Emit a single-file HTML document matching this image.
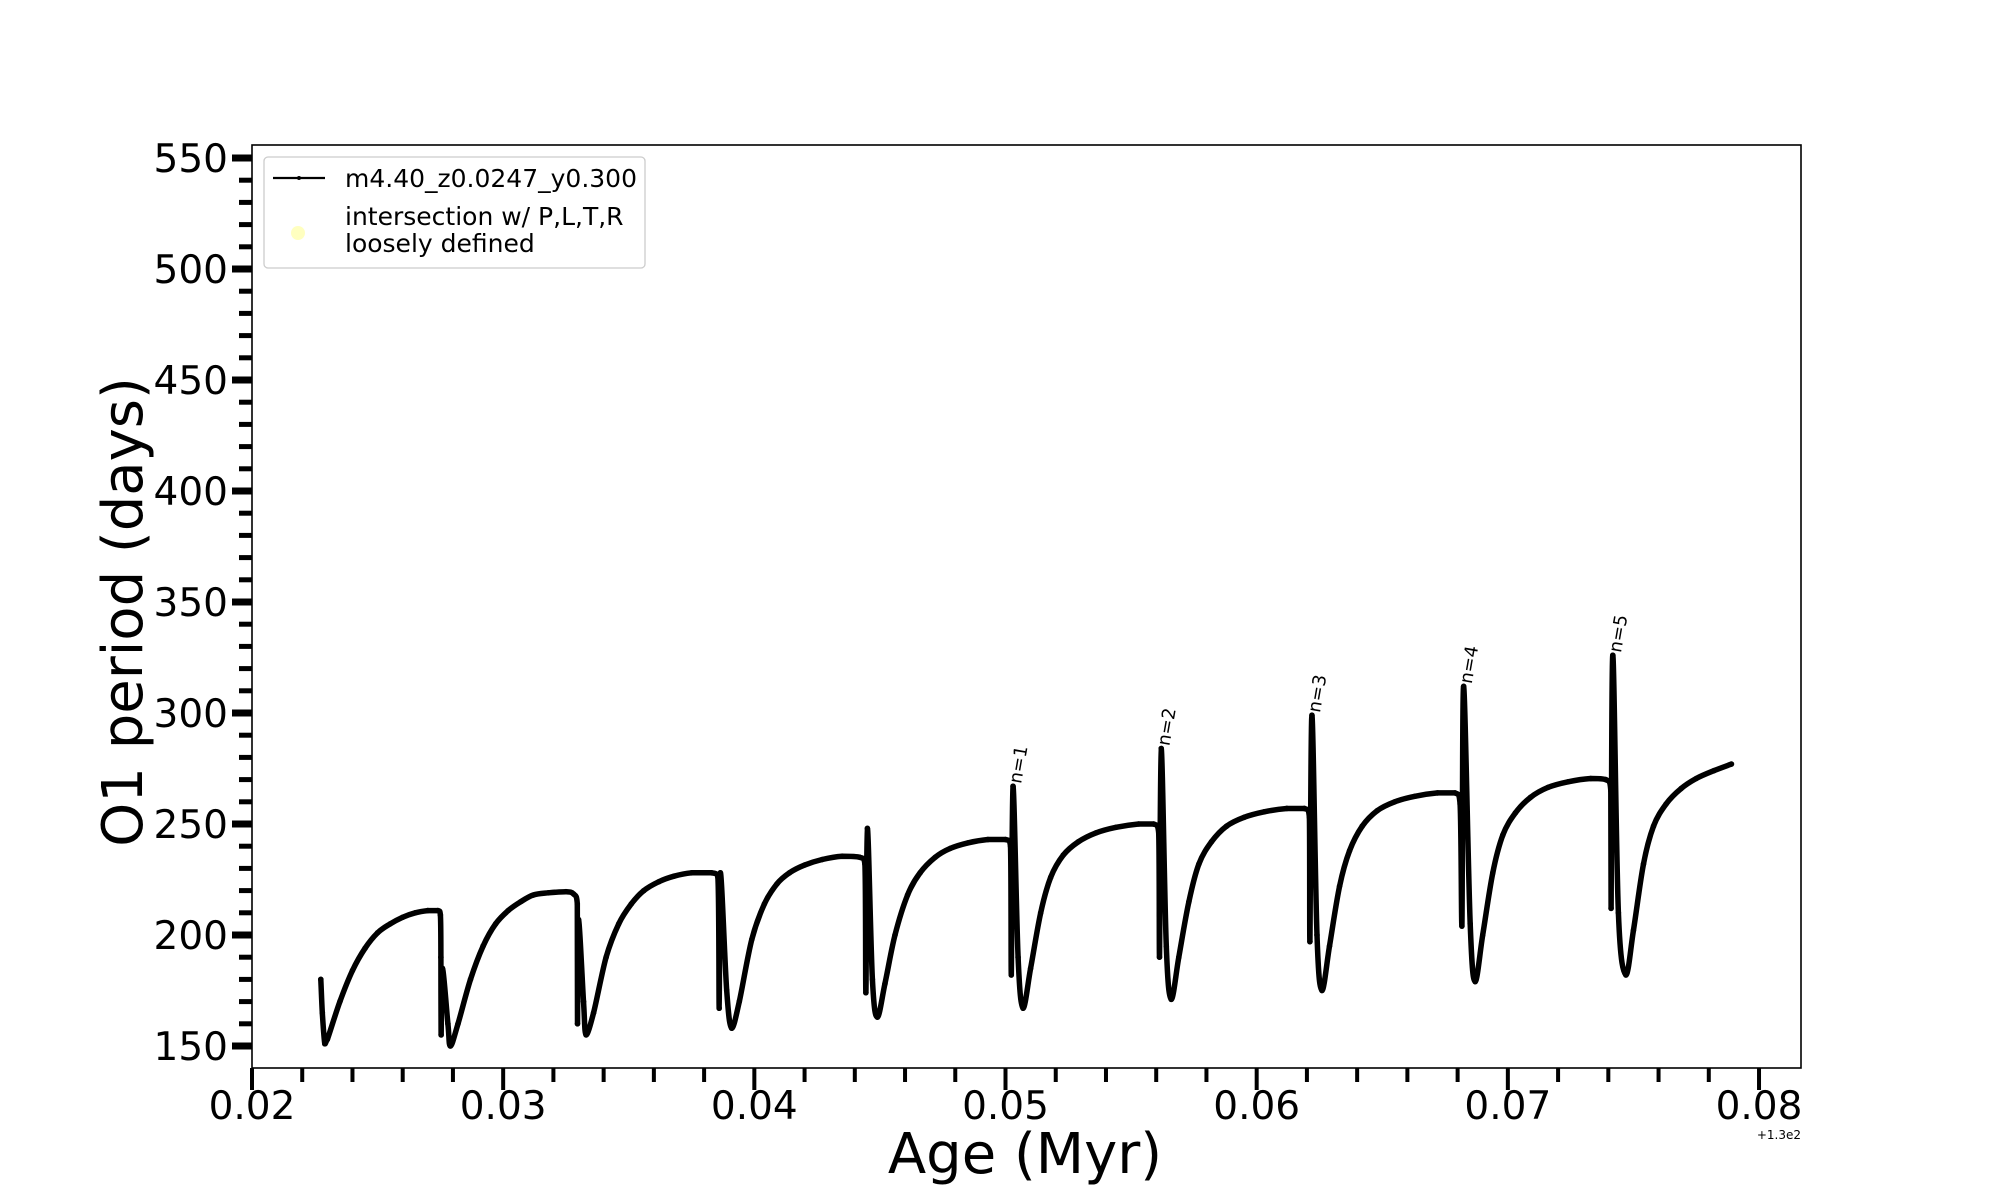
<!DOCTYPE html>
<html><head><meta charset="utf-8"><style>
body{margin:0;background:#fff}
svg{display:block;font-family:"DejaVu Sans","Liberation Sans",sans-serif}
</style></head><body>
<svg id="chart" width="2000" height="1200" viewBox="0 0 2000 1200" xmlns="http://www.w3.org/2000/svg">
<rect width="2000" height="1200" fill="#fff"/>
<g id="axes"></g>
<g id="series"></g>
<g id="labels"></g>
<rect x="252" y="145" width="1549" height="923" fill="none" stroke="#000" stroke-width="1.6"/>
<g>
<rect x="264" y="157" width="381" height="111" rx="4" fill="#fff" fill-opacity="0.8" stroke="#ccc" stroke-width="1.3"/>
<line x1="273" y1="178" x2="325" y2="178" stroke="#000" stroke-width="2.2"/>
<circle cx="299" cy="178" r="2" fill="#000"/>
<text x="345" y="187" font-size="25">m4.40_z0.0247_y0.300</text>
<circle cx="298" cy="233" r="7" fill="#ffffb0" opacity="0.8"/>
<text x="345" y="225" font-size="25">intersection w/ P,L,T,R</text>
<text x="345" y="252" font-size="25">loosely defined</text>
</g>
<text x="1025" y="1173" font-size="56" text-anchor="middle">Age (Myr)</text>
<text transform="translate(142,612) rotate(-90)" font-size="56" text-anchor="middle">O1 period (days)</text>
<text x="1801" y="1139" font-size="12" text-anchor="end">+1.3e2</text>
</svg>
<script>
const ages=[0.02274,0.02280,0.02290,0.0230,0.0235,0.0240,0.0245,0.0250,0.0255,0.0260,0.0265,0.0270,0.0274,0.02750,0.02752,0.02753,0.02758,0.0278,0.0279,
0.0282,0.0287,0.0292,0.0297,0.0302,0.0307,0.0312,0.0318,0.0325,0.0328,0.03295,0.03296,0.0330,0.0332,0.0333,
0.0336,0.0341,0.0346,0.0351,0.0356,0.0362,0.0368,0.0375,0.0383,0.03855,0.0386,0.03865,0.0389,0.0391,
0.0394,0.0399,0.0404,0.0409,0.0414,0.0420,0.0427,0.0435,0.0442,0.04440,0.04444,0.04450,0.0447,0.0449,
0.0452,0.0456,0.0461,0.0466,0.0472,0.0478,0.0485,0.0493,0.0500,0.0502,0.05023,0.05030,0.0505,0.0507,
0.0510,0.0514,0.0518,0.0523,0.0529,0.0536,0.0544,0.0553,0.0559,0.0561,0.05613,0.05620,0.0564,0.0566,
0.0569,0.0573,0.0577,0.0582,0.0588,0.0595,0.0603,0.0612,0.0619,0.0621,0.06212,0.06220,0.0624,0.0626,
0.0629,0.0633,0.0637,0.0642,0.0648,0.0655,0.0663,0.0672,0.0679,0.0681,0.06817,0.06824,0.0685,0.0687,
0.0690,0.0694,0.0698,0.0703,0.0709,0.0716,0.0724,0.0733,0.0739,0.0741,0.07411,0.07418,0.0744,0.0747,
0.0750,0.0754,0.0758,0.0763,0.0769,0.0775,0.0782,0.0789];
const periods=[180,165,151,153,170,184,194,201,205,208,210,211,211,209,190,155,185,160,150,
160,180,195,205,211,215,218,219,219.5,218.5,214,160,207,170,155,
165,190,205,214,220,224,226.5,228,228,226,167,228,175,158,
170,198,214,223,228,231.5,234,235.5,235,232,174,248,180,163,
178,200,218,228,235,239,241.5,243,243,240,182,267,190,167,
185,210,226,236,242,246,248.5,250,250,246,190,284,195,171,
190,215,232,242,249,253,255.5,257,257,253,197,299,200,175,
195,222,238,249,256,260,262.5,264,264,259,204,312,205,179,
200,228,245,255,262,266.5,269,270.5,270,265,212,326,210,182,
202,232,249,259,266,270.5,274,277];
const spikeAges=[0.05030,0.05620,0.06220,0.06824,0.07418];
const spikePeriods=[267,284,299,312,326];
const spikeLabels=["n=1","n=2","n=3","n=4","n=5"];
const yTicks=[150,200,250,300,350,400,450,500,550];
const xTicks=[0.02,0.03,0.04,0.05,0.06,0.07,0.08];
const xTickLabels=["0.02","0.03","0.04","0.05","0.06","0.07","0.08"];

const NS="http://www.w3.org/2000/svg";
const X=a=>252+(a-0.02)*25117;
const Y=p=>158+(550-p)*2.22;
function mk(t,attrs,parent){const e=document.createElementNS(NS,t);for(const k in attrs)e.setAttribute(k,attrs[k]);parent.appendChild(e);return e;}
const axes=document.getElementById('axes'),ser=document.getElementById('series'),lab=document.getElementById('labels');
for(let v=140;v<=550;v+=10){
  const major=v%50===0;
  if(Y(v)>1068) continue;
  const t=mk('line',{x1:major?232:239,x2:252,y1:Y(v),y2:Y(v),stroke:'#000','stroke-width':major?7:5},axes);
  
  
}
yTicks.forEach(v=>{
  const t=mk('text',{x:228,y:Y(v)+14,'font-size':39,'text-anchor':'end'},axes);
  t.textContent=String(v);
  
  
});
for(let i=0;i<=30;i++){
  const a=0.02+i*0.002;const major=i%5===0;
  const t=mk('line',{x1:X(a),x2:X(a),y1:1068,y2:major?1090:1082,stroke:'#000','stroke-width':4},axes);
  
  
}
xTicks.forEach((a,i)=>{
  const t=mk('text',{x:X(a),y:1119,'font-size':39,'text-anchor':'middle'},axes);
  t.textContent=xTickLabels[i];
  
  
});
const P=ages.map((a,i)=>[X(a),Y(periods[i])]);
let d='M'+P[0][0].toFixed(1)+','+P[0][1].toFixed(1);
const clamp=(v,a,b)=>Math.max(Math.min(a,b),Math.min(Math.max(a,b),v));
for(let i=0;i<P.length-1;i++){
  const p0=P[Math.max(i-1,0)],p1=P[i],p2=P[i+1],p3=P[Math.min(i+2,P.length-1)];
  let c1x=p1[0]+(p2[0]-p0[0])/6,c1y=p1[1]+(p2[1]-p0[1])/6;
  let c2x=p2[0]-(p3[0]-p1[0])/6,c2y=p2[1]-(p3[1]-p1[1])/6;
  c1x=clamp(c1x,p1[0],p2[0]);c2x=clamp(c2x,p1[0],p2[0]);
  c1y=clamp(c1y,p1[1],p2[1]);c2y=clamp(c2y,p1[1],p2[1]);
  d+=` C${c1x.toFixed(1)},${c1y.toFixed(1)} ${c2x.toFixed(1)},${c2y.toFixed(1)} ${p2[0].toFixed(1)},${p2[1].toFixed(1)}`;
}
const line=mk('path',{d:d,fill:'none',stroke:'#000','stroke-width':5.5,'stroke-linejoin':'round','stroke-linecap':'round'},ser);


ages.forEach((a,i)=>{
  const c=mk('circle',{cx:X(a),cy:Y(periods[i]),r:2.8,fill:'#000'},ser);
  
  
});
spikeAges.forEach((a,i)=>{
  const x=X(a)+8,y=Y(spikePeriods[i])-2;
  const t=mk('text',{x:0,y:0,'font-size':18,transform:`translate(${x},${y}) rotate(-80)`},lab);
  t.textContent=spikeLabels[i];
  
  
});
</script>
</body></html>
